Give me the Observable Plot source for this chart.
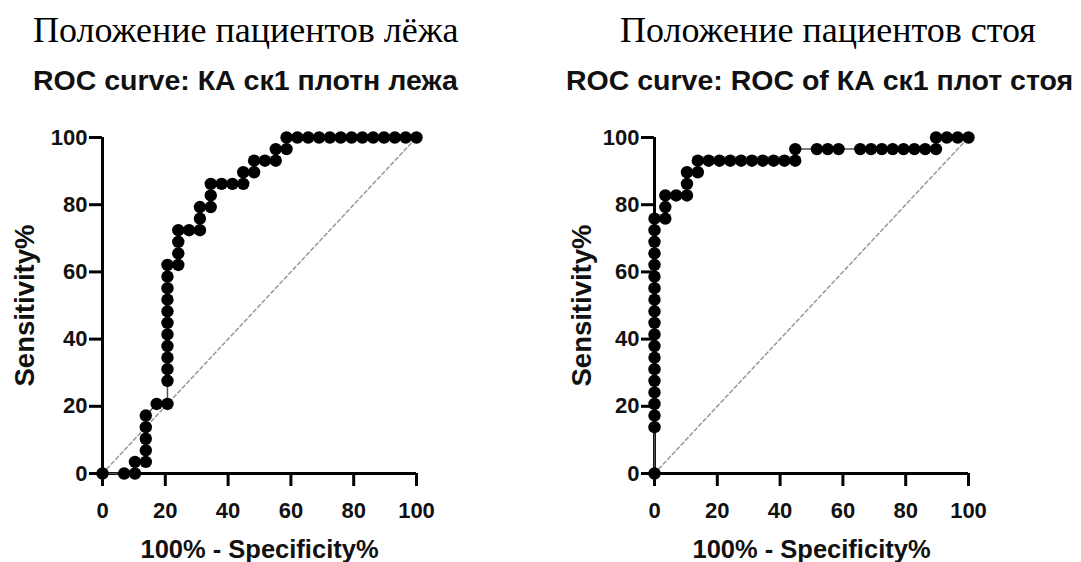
<!DOCTYPE html>
<html>
<head>
<meta charset="utf-8">
<script src="https://cdn.jsdelivr.net/npm/d3@7"></script>
<script src="https://cdn.jsdelivr.net/npm/@observablehq/plot@0.6"></script>
<style>
  html, body { margin: 0; padding: 0; background: #fff; }
  #root { position: relative; width: 1081px; height: 562px; overflow: hidden; background: #fff; }
  .panel { position: absolute; top: 110px; }
  .serif { position: absolute; font-family: "Liberation Serif", "Times New Roman", serif; font-size: 36px; line-height: 1; color: #000; white-space: nowrap; }
  .bold { position: absolute; font-family: "Liberation Sans", Arial, sans-serif; font-weight: bold; font-size: 28.5px; line-height: 1; color: #111; white-space: nowrap; }
</style>
</head>
<body>
<div id="root">
  <div class="serif" style="left:33px; top:12px;">Положение пациентов лёжа</div>
  <div class="serif" style="left:620px; top:12px;">Положение пациентов стоя</div>
  <div class="bold" style="left:33px; top:66px;">ROC curve: КА ск1 плотн лежа</div>
  <div class="bold" style="left:566px; top:66px;">ROC curve: ROC of КА ск1 плот стоя</div>
  <div class="panel" id="left" style="left:0px;"></div>
  <div class="panel" id="right" style="left:540px;"></div>
</div>
<script>
// Left panel: lying position (100% - Specificity%, Sensitivity%)
const lyingX = [0, 6.9, 10.34, 10.34, 13.79, 13.79, 13.79, 13.79, 13.79, 17.24, 20.69,
  20.69, 20.69, 20.69, 20.69, 20.69, 20.69, 20.69, 20.69, 20.69, 20.69, 20.69,
  24.14, 24.14, 24.14, 24.14, 27.59, 31.03, 31.03, 31.03, 34.48, 34.48, 34.48,
  37.93, 41.38, 44.83, 44.83, 48.28, 48.28, 51.72, 55.17, 55.17, 58.62, 58.62,
  62.07, 65.52, 68.97, 72.41, 75.86, 79.31, 82.76, 86.21, 89.66, 93.10, 96.55, 100];
const lyingY = [0, 0, 0, 3.45, 3.45, 6.9, 10.34, 13.79, 17.24, 20.69, 20.69,
  27.59, 31.03, 34.48, 37.93, 41.38, 44.83, 48.28, 51.72, 55.17, 58.62, 62.07,
  62.07, 65.52, 68.97, 72.41, 72.41, 72.41, 75.86, 79.31, 79.31, 82.76, 86.21,
  86.21, 86.21, 86.21, 89.66, 89.66, 93.10, 93.10, 93.10, 96.55, 96.55, 100,
  100, 100, 100, 100, 100, 100, 100, 100, 100, 100, 100, 100];

// Right panel: standing position
const standX = [0, 0, 0, 0, 0, 0, 0, 0, 0, 0, 0, 0, 0, 0, 0, 0, 0, 0, 0, 0,
  3.45, 3.45, 3.45, 6.9, 10.34, 10.34, 10.34, 13.79, 13.79,
  17.24, 20.69, 24.14, 27.59, 31.03, 34.48, 37.93, 41.38, 44.83, 44.83,
  51.72, 55.17, 58.62, 65.52, 68.97, 72.41, 75.86, 79.31, 82.76, 86.21, 89.66, 89.66,
  93.10, 96.55, 100];
const standY = [0, 13.79, 17.24, 20.69, 24.14, 27.59, 31.03, 34.48, 37.93, 41.38,
  44.83, 48.28, 51.72, 55.17, 58.62, 62.07, 65.52, 68.97, 72.41, 75.86,
  75.86, 79.31, 82.76, 82.76, 82.76, 86.21, 89.66, 89.66, 93.10,
  93.10, 93.10, 93.10, 93.10, 93.10, 93.10, 93.10, 93.10, 93.10, 96.55,
  96.55, 96.55, 96.55, 96.55, 96.55, 96.55, 96.55, 96.55, 96.55, 96.55, 96.55, 100,
  100, 100, 100];

const tickValues = [0, 20, 40, 60, 80, 100];
const xLabel = "100% - Specificity%";
const yLabel = "Sensitivity%";
const diagonal = [[0, 0], [100, 100]];

function rocPlot(xs, ys, marginLeft, marginRight, yLabelDx) {
  const pts = xs.map((x, i) => ({x, y: ys[i]}));
  return Plot.plot({
    width: 540,
    height: 452,
    marginTop: 27,
    marginBottom: 89,
    marginLeft,
    marginRight,
    x: {domain: [0, 100]},
    y: {domain: [0, 100]},
    style: {
      fontFamily: "'Liberation Sans', Arial, sans-serif",
      fontWeight: "bold",
      fontSize: "22px",
      color: "#111",
      background: "transparent",
      overflow: "visible"
    },
    marks: [
      Plot.line(diagonal, {x: d => d[0], y: d => d[1], stroke: "#9a9a9a", strokeWidth: 1.6, strokeDasharray: "3.5,3"}),
      Plot.ruleY([0], {x1: 0, x2: 100, stroke: "#000", strokeWidth: 3}),
      Plot.ruleX([0], {y1: 0, y2: 100, stroke: "#000", strokeWidth: 3}),
      Plot.axisX(tickValues, {tickSize: 13, tickPadding: 16, strokeWidth: 3, stroke: "#000", label: null, tickFormat: d => String(d)}),
      Plot.axisY(tickValues, {tickSize: 13, tickPadding: 2, strokeWidth: 3, stroke: "#000", label: null, tickFormat: d => String(d)}),
      Plot.line(pts, {x: "x", y: "y", stroke: "#555", strokeWidth: 1.5}),
      Plot.dot(pts, {x: "x", y: "y", r: 6.2, fill: "#000", stroke: "none"}),
      Plot.text([xLabel], {frameAnchor: "bottom", dy: 76, lineAnchor: "middle", fontSize: 25.5, fontWeight: "bold", fill: "#111"}),
      Plot.text([yLabel], {frameAnchor: "left", dx: yLabelDx, rotate: -90, textAnchor: "middle", lineAnchor: "middle", fontSize: 27.5, fontWeight: "bold", fill: "#111"})
    ]
  });
}

document.getElementById("left").appendChild(rocPlot(lyingX, lyingY, 102, 124, -77));
document.getElementById("right").appendChild(rocPlot(standX, standY, 114, 112, -72));
</script>
</body>
</html>
